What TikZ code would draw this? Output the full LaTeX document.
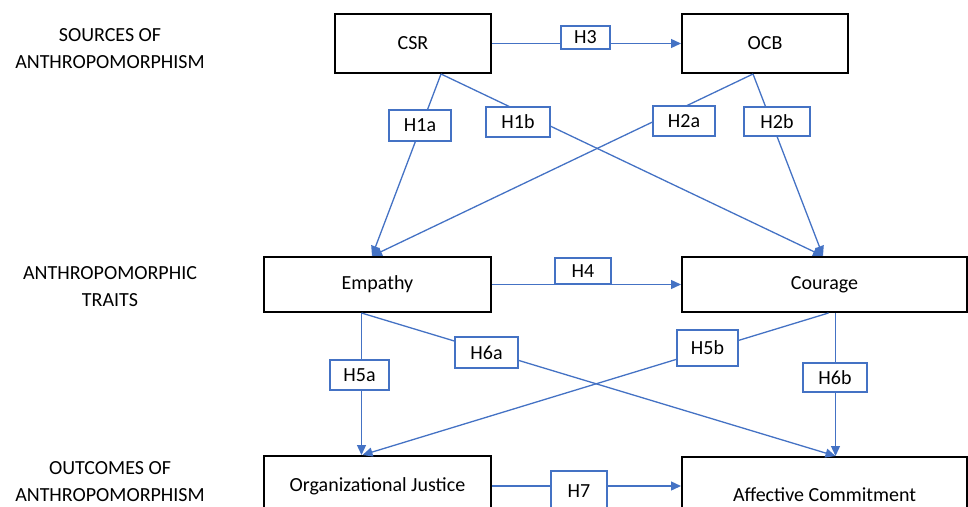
\documentclass[tikz,border=0pt]{standalone}
\usepackage{fontspec}
\setmainfont{Carlito}
\usetikzlibrary{arrows.meta,calc}
\definecolor{obl}{HTML}{4472C4}
\begin{document}
\begin{tikzpicture}[x=1pt,y=-1pt,
 box/.style={draw=black,line width=2pt,fill=white,inner sep=0pt,font=\fontsize{20}{24}\selectfont},
 hyp/.style={draw=obl,line width=1.3pt,fill=white,inner sep=0pt,font=\fontsize{20}{24}\selectfont},
 conn/.style={draw=obl,line width=1.3pt,-{Triangle[length=10pt,width=9pt]}},
 cat/.style={align=center,inner sep=0pt,font=\fontsize{20}{27}\selectfont}]
\useasboundingbox (0,0) rectangle (968,506);
\clip (0,0) rectangle (968,506);
% category labels
\node[cat] (c1) at (110,48.5) {SOURCES OF\\ANTHROPOMORPHISM};
\node[cat] (c2) at (110,286.5) {ANTHROPOMORPHIC\\TRAITS};
\node[cat] (c3) at (110,481.5) {OUTCOMES OF\\ANTHROPOMORPHISM};
% main boxes
\node[box,minimum width=156pt,minimum height=59pt] (CSR) at (413,43.5) {CSR};
\node[box,minimum width=166pt,minimum height=59pt] (OCB) at (765,43.5) {OCB};
\node[box,minimum width=227pt,minimum height=55pt] (Emp) at (377.5,284.5) {Empathy};
\node[box,minimum width=285pt,minimum height=55pt] (Cour) at (824.5,284.5) {Courage};
\node[box,minimum width=227pt,minimum height=60pt] (OJ) at (377.5,486) {Organizational Justice};
\node[box,minimum width=285pt,minimum height=76pt] (AC) at (824.5,495) {Affective Commitment};
% connectors
\draw[conn] (CSR.east) -- (OCB.west);
\draw[conn] ([xshift=28pt]CSR.south) -- ([xshift=-5.5pt]Emp.north);
\draw[conn] ([xshift=28pt]CSR.south) -- ([xshift=-1.5pt]Cour.north);
\draw[conn] ([xshift=-12pt]OCB.south) -- ([xshift=-5.5pt]Emp.north);
\draw[conn] ([xshift=-12pt]OCB.south) -- ([xshift=-1.5pt]Cour.north);
\draw[conn] (Emp.east) -- (Cour.west);
\draw[conn] ([xshift=-16pt]Emp.south) -- ([xshift=-16pt]OJ.north);
\draw[conn] ([xshift=-16pt]Emp.south) -- ([xshift=11pt]AC.north);
\draw[conn] ([xshift=4pt]Cour.south) -- ([xshift=-15pt]OJ.north);
\draw[conn] ([xshift=11pt]Cour.south) -- ([xshift=11pt]AC.north);
\draw[conn] (OJ.east) -- (OJ.east -| AC.west);
% hypothesis labels
\node[hyp,minimum width=49pt,minimum height=23pt] (h3) at (585.5,37.5) {H3};
\node[hyp,minimum width=62pt,minimum height=31pt] (h1a) at (420,125.5) {H1a};
\node[hyp,minimum width=64pt,minimum height=30pt] (h1b) at (518,122) {H1b};
\node[hyp,minimum width=62pt,minimum height=30pt] (h2a) at (684,121) {H2a};
\node[hyp,minimum width=66pt,minimum height=29pt] (h2b) at (777,121.5) {H2b};
\node[hyp,minimum width=56pt,minimum height=26pt] (h4) at (583,271) {H4};
\node[hyp,minimum width=59pt,minimum height=30pt] (h5a) at (359.5,375) {H5a};
\node[hyp,minimum width=63pt,minimum height=31pt] (h6a) at (486.5,352.5) {H6a};
\node[hyp,minimum width=61pt,minimum height=36pt] (h5b) at (707.5,348) {H5b};
\node[hyp,minimum width=64pt,minimum height=29pt] (h6b) at (835,377.5) {H6b};
\node[hyp,minimum width=56pt,minimum height=40pt] (h7) at (579,491) {H7};
\end{tikzpicture}
\end{document}
